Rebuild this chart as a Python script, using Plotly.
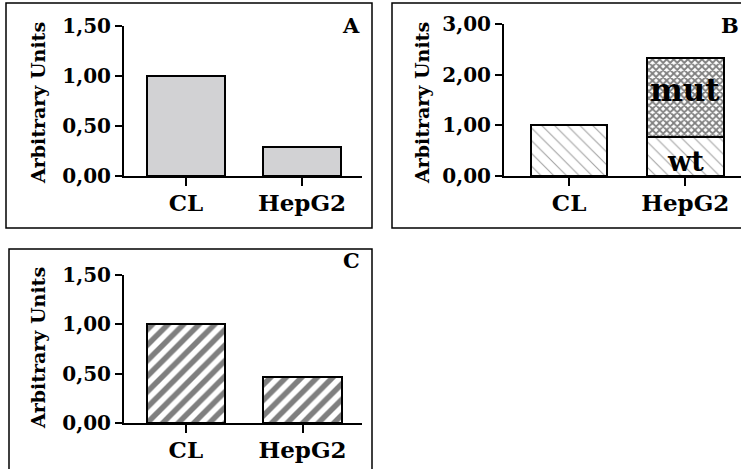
import plotly.graph_objects as go

W, H = 741, 469

categories = ["CL", "HepG2"]
values_a = [1.00, 0.29]
values_b_wt = [1.00, 0.77]
values_b_mut = [0.0, 1.56]
values_c = [1.00, 0.47]

ticks_ab = [0, 0.5, 1.0, 1.5]
ticklabels_ab = ["0,00", "0,50", "1,00", "1,50"]
ticks_b = [0, 1, 2, 3]
ticklabels_b = ["0,00", "1,00", "2,00", "3,00"]

FONT = "DejaVu Serif"

def px(x):
    return x / W

def py(y):
    return 1 - y / H

fig = go.Figure()

bar_line = dict(color="black", width=2)

fig.add_trace(go.Bar(x=categories, y=values_a, xaxis="x", yaxis="y", width=0.67,
                     marker=dict(color="#d2d2d4", line=bar_line)))

fig.add_trace(go.Bar(x=categories, y=values_b_wt, xaxis="x2", yaxis="y2", width=0.66,
                     marker=dict(color="white", line=bar_line,
                                 pattern=dict(shape="\\", size=9, solidity=0.12,
                                              fgcolor="#444444", bgcolor="white"))))
fig.add_trace(go.Bar(x=categories, y=values_b_mut, xaxis="x2", yaxis="y2", width=0.66,
                     marker=dict(color="white", line=bar_line,
                                 pattern=dict(shape="x", size=5, solidity=0.6,
                                              fgcolor="black", bgcolor="white"))))

fig.add_trace(go.Bar(x=categories, y=values_c, xaxis="x3", yaxis="y3", width=0.67,
                     marker=dict(color="white", line=bar_line,
                                 pattern=dict(shape="/", size=11, solidity=0.5,
                                              fgcolor="black", bgcolor="white"))))

xfont = dict(family=FONT, size=23, color="black", weight="bold")
yfont = dict(family=FONT, size=20, color="black", weight="bold")

common_x = dict(type="category", showline=True, linecolor="black", linewidth=2,
                ticks="outside", ticklen=8, tickwidth=2, tickcolor="black",
                tickfont=xfont, ticklabelstandoff=-3, automargin=False,
                showgrid=False, zeroline=False, fixedrange=True)
common_y = dict(showline=True, linecolor="black", linewidth=2,
                ticks="outside", ticklen=7, tickwidth=2, tickcolor="black",
                tickfont=yfont, automargin=False,
                showgrid=False, zeroline=False, fixedrange=True)

fig.update_layout(
    width=W, height=H,
    margin=dict(l=0, r=0, t=0, b=0, autoexpand=False),
    paper_bgcolor="white", plot_bgcolor="rgba(0,0,0,0)",
    showlegend=False, barmode="stack",
    font=dict(family=FONT, color="black"),
    xaxis=dict(common_x, domain=[px(124), px(362)], range=[-0.534, 1.517], anchor="y"),
    yaxis=dict(common_y, domain=[py(176), py(26)], range=[0, 1.5], anchor="x",
               tickvals=ticks_ab, ticktext=ticklabels_ab),
    xaxis2=dict(common_x, domain=[px(504), 1.0], range=[-0.56, 1.48], anchor="y2"),
    yaxis2=dict(common_y, domain=[py(176), py(24)], range=[0, 3], anchor="x2",
                tickvals=ticks_b, ticktext=ticklabels_b),
    xaxis3=dict(common_x, domain=[px(124), px(362)], range=[-0.53, 1.51], anchor="y3"),
    yaxis3=dict(common_y, domain=[py(423), py(275)], range=[0, 1.5], anchor="x3",
                tickvals=ticks_ab, ticktext=ticklabels_ab),
)

# panel frames
for (x0, y0, x1, y1) in [(6, 3, 372, 228), (392, 3, 745, 228), (9, 249, 372, 475)]:
    fig.add_shape(type="rect", xref="paper", yref="paper",
                  x0=px(x0), x1=px(x1), y0=py(y1), y1=py(y0),
                  line=dict(color="black", width=1.5), fillcolor="rgba(0,0,0,0)")

anns = []
for (x, y) in [(38, 103), (422, 103), (38, 348)]:
    anns.append(dict(text="Arbitrary Units", xref="paper", yref="paper",
                     x=px(x), y=py(y), textangle=-90, showarrow=False,
                     font=dict(family=FONT, size=19, color="black", weight="bold"),
                     xanchor="center", yanchor="middle"))
for (t, x, y, xa) in [("A", 351, 25, "center"), ("B", 741, 25, "right"), ("C", 351, 260, "center")]:
    anns.append(dict(text=t, xref="paper", yref="paper",
                     x=px(x), y=py(y), showarrow=False,
                     font=dict(family=FONT, size=21, color="black", weight="bold"),
                     xanchor=xa, yanchor="middle"))
anns.append(dict(text="mut", xref="x2", yref="y2", x="HepG2", y=1.70,
                 showarrow=False, font=dict(family=FONT, size=31, color="black", weight="bold")))
anns.append(dict(text="wt", xref="x2", yref="y2", x="HepG2", y=0.28,
                 showarrow=False, font=dict(family=FONT, size=27, color="black", weight="bold")))
fig.update_layout(annotations=anns)

fig.write_html("out.html", config={"displayModeBar": False, "staticPlot": True},
               post_script="document.body.style.margin='0';document.body.style.padding='0';")
